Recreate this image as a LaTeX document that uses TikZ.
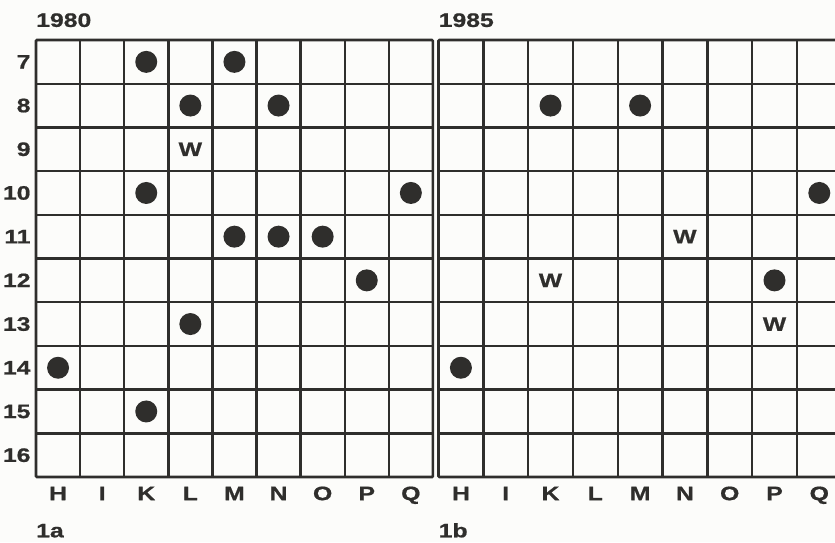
\documentclass[tikz,border=0pt]{standalone}
\usepackage{fontspec}
\newfontfamily\boardfont{Liberation Sans}[FakeStretch=1.27,FakeBold=0.8]
\definecolor{ink}{HTML}{2F2E2C}
\definecolor{paper}{HTML}{FCFCFA}

\begin{document}
\begin{tikzpicture}[x=1pt, y=-1pt,
          gline/.style={draw=ink, line width=2.4pt},
          frame/.style={draw=ink, line width=2.6pt, rounded corners=1pt},
          stone/.style={circle, fill=ink, minimum size=22pt, inner sep=0pt},
          lbl/.style={font=\boardfont\bfseries\fontsize{19.5}{19.5}\selectfont, text=ink, inner sep=0pt}]
        \clip (0,0) rectangle (835,542);
        \fill[paper] (0,0) rectangle (835,542);
        % board 1a (1980)
        \begin{scope}[shift={(36,40)}, x=44.1pt, y=-43.7pt]
          \foreach \c in {1,...,8} \draw[gline] (\c,0) -- (\c,10);
          \foreach \r in {1,...,9} \draw[gline] (0,\r) -- (9,\r);
          \draw[frame] (0,0) rectangle (9,10);
          \node[lbl, anchor=base west] (t1980) at (0,-0.3) {1980};
          \node[lbl, anchor=base west] (cap1a) at (0,11.38) {1a};
          \foreach \n [count=\i from 0] in {7,...,16}
            \node[lbl, anchor=east] (r\n) at (-0.12,\i+.5) {\n};
          \foreach \l [count=\i from 0] in {H,I,K,L,M,N,O,P,Q}
            \node[lbl, anchor=base] (ca-\l) at (\i+.5,10.53) {\l};
          \node[stone] (a-K7) at (2.5,0.5) {};
          \node[stone] (a-M7) at (4.5,0.5) {};
          \node[stone] (a-L8) at (3.5,1.5) {};
          \node[stone] (a-N8) at (5.5,1.5) {};
          \node[lbl] (a-wL9) at (3.5,2.5) {W};
          \node[stone] (a-K10) at (2.5,3.5) {};
          \node[stone] (a-Q10) at (8.5,3.5) {};
          \node[stone] (a-M11) at (4.5,4.5) {};
          \node[stone] (a-N11) at (5.5,4.5) {};
          \node[stone] (a-O11) at (6.5,4.5) {};
          \node[stone] (a-P12) at (7.5,5.5) {};
          \node[stone] (a-L13) at (3.5,6.5) {};
          \node[stone] (a-H14) at (0.5,7.5) {};
          \node[stone] (a-K15) at (2.5,8.5) {};
        \end{scope}
        % board 1b (1985), cut off at the right edge
        \begin{scope}[shift={(438.5,40)}, x=44.8pt, y=-43.7pt]
          \foreach \c in {1,...,8} \draw[gline] (\c,0) -- (\c,10);
          \foreach \r in {1,...,9} \draw[gline] (0,\r) -- (9,\r);
          \draw[frame] (0,0) rectangle (9,10);
          \node[lbl, anchor=base west] (t1985) at (0,-0.3) {1985};
          \node[lbl, anchor=base west] (cap1b) at (0,11.38) {1b};
          \foreach \l [count=\i from 0] in {H,I,K,L,M,N,O,P,Q}
            \node[lbl, anchor=base] (cb-\l) at (\i+.5,10.53) {\l};
          \node[stone] (b-K8) at (2.5,1.5) {};
          \node[stone] (b-M8) at (4.5,1.5) {};
          \node[stone] (b-Q10) at (8.5,3.5) {};
          \node[lbl] (b-wN11) at (5.5,4.5) {W};
          \node[lbl] (b-wK12) at (2.5,5.5) {W};
          \node[stone] (b-P12) at (7.5,5.5) {};
          \node[lbl] (b-wP13) at (7.5,6.5) {W};
          \node[stone] (b-H14) at (0.5,7.5) {};
        \end{scope}
      \end{tikzpicture}
\end{document}
